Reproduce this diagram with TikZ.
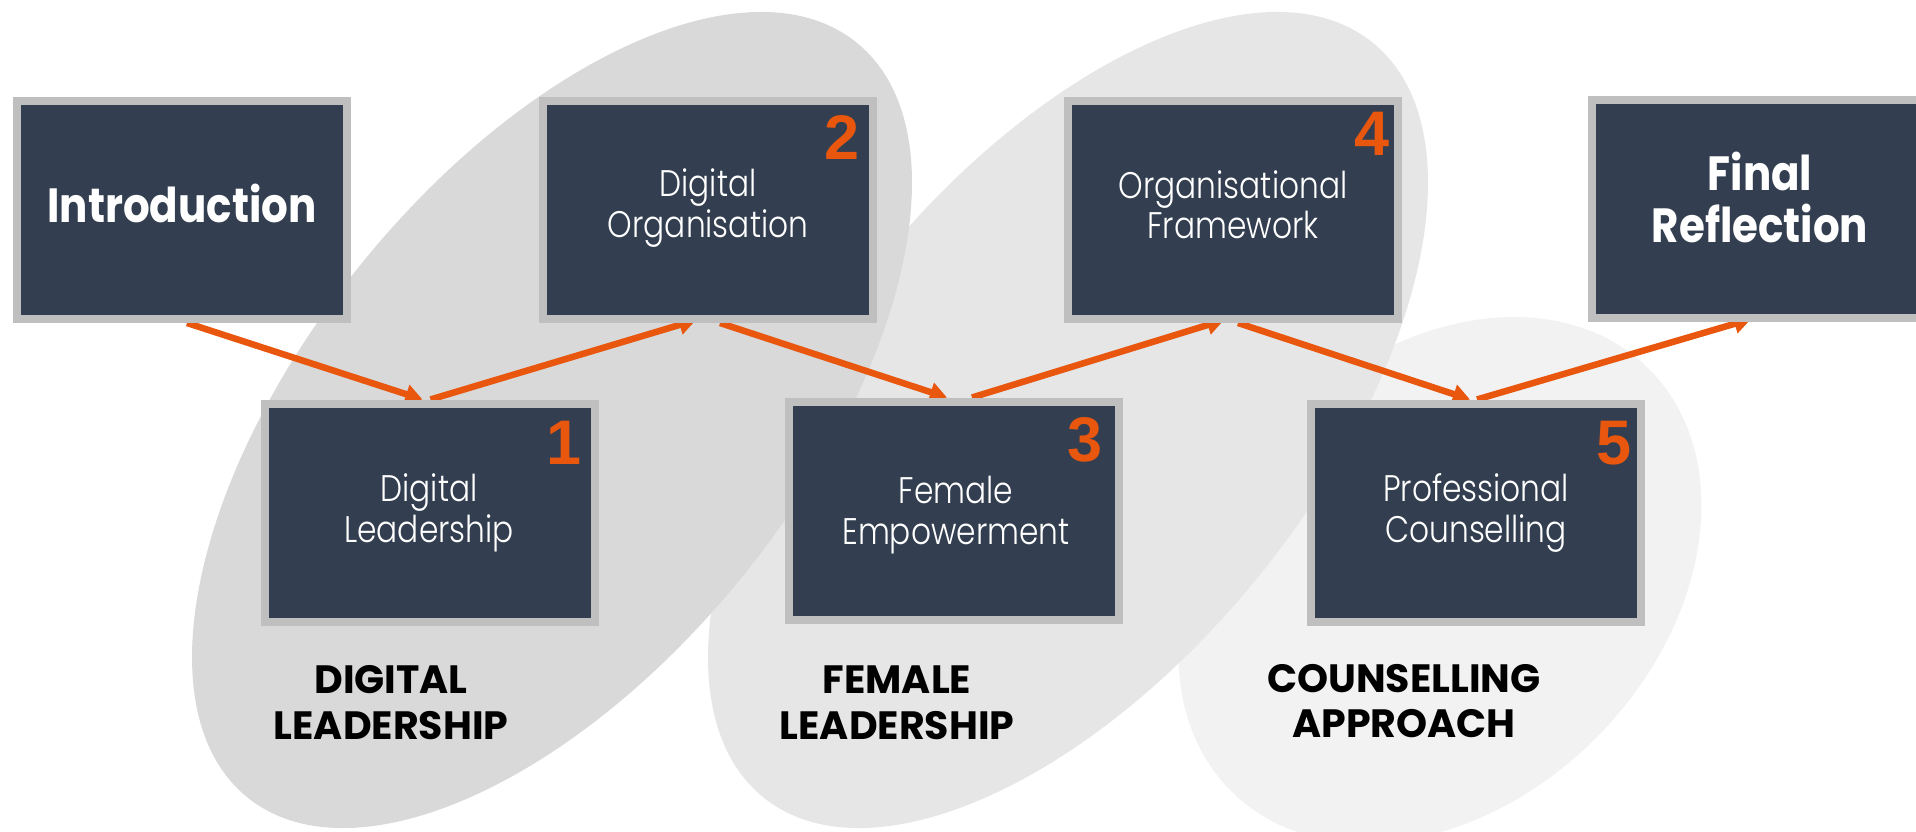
\documentclass[tikz,border=0pt]{standalone}
\usepackage{fontspec}
\setmainfont{Poppins}
\newfontfamily\lightfont{Poppins Light}[FakeStretch=0.845]
\newfontfamily\headfont{Poppins}[FakeStretch=0.875]
\newfontfamily\numfont{Liberation Sans}
\usetikzlibrary{arrows.meta,calc}
\definecolor{boxfill}{HTML}{333F50}
\definecolor{boxborder}{HTML}{BFBFBF}
\definecolor{accent}{HTML}{E9560E}
\definecolor{ellA}{HTML}{D9D9D9}
\definecolor{ellB}{HTML}{E6E6E6}
\definecolor{ellC}{HTML}{F2F2F2}
\begin{document}
\begin{tikzpicture}[x=1pt,y=-1pt,
  stepbox/.style={draw=boxborder, line width=8pt, fill=boxfill, minimum width=330pt, minimum height=218pt, inner sep=0pt},
  flow/.style={draw=accent, line width=6.5pt, -{Triangle[length=17pt,width=19pt]}},
  boxtxt/.style={text=white, font=\lightfont\fontsize{37}{37}\selectfont, anchor=base, inner sep=0pt},
  headtxt/.style={text=white, font=\headfont\bfseries\fontsize{48}{48}\selectfont, anchor=base, inner sep=0pt},
  grouptxt/.style={text=black, font=\bfseries\fontsize{39.5}{39.5}\selectfont, anchor=base, inner sep=0pt},
  numtxt/.style={text=accent, font=\numfont\bfseries\fontsize{63}{63}\selectfont, anchor=north east, inner sep=0pt},
]
\useasboundingbox (0,0) rectangle (1916,832);
\begin{scope}
\clip (0,0) rectangle (1916,832);
% group ellipses
\fill[ellC, rotate around={45.6:(1440,580)}] (1440,580) ellipse (297 and 222);
\fill[ellB, rotate around={51.1:(1068,420)}] (1068,420) ellipse (485 and 246.5);
\fill[ellA, rotate around={51.1:(552,420)}] (552,420) ellipse (485 and 246.5);

% box positions
\coordinate (pintro) at (182,210);
\coordinate (p1) at (429.5,512.5);
\coordinate (p2) at (708,210);
\coordinate (p3) at (954,510.5);
\coordinate (p4) at (1233,210);
\coordinate (p5) at (1476,512.5);
\coordinate (pfin) at (1757,209);

% invisible anchors for the connectors
\path (pintro) node[stepbox, draw=none, fill=none] (intro) {}
      (p1) node[stepbox, draw=none, fill=none] (b1) {}
      (p2) node[stepbox, draw=none, fill=none] (b2) {}
      (p3) node[stepbox, draw=none, fill=none] (b3) {}
      (p4) node[stepbox, draw=none, fill=none] (b4) {}
      (p5) node[stepbox, draw=none, fill=none] (b5) {}
      (pfin) node[stepbox, draw=none, fill=none] (fin) {};

% connectors (beneath the boxes)
\draw[flow] ([xshift=5pt]intro.south) -- ([xshift=-7pt]b1.north);
\draw[flow] ([xshift=1pt]b1.north) -- ([xshift=-12pt,yshift=3pt]b2.south);
\draw[flow] ([xshift=12pt]b2.south) -- ([xshift=-7pt]b3.north);
\draw[flow] ([xshift=18pt]b3.north) -- ([xshift=-9pt,yshift=3pt]b4.south);
\draw[flow] ([xshift=5pt]b4.south) -- ([xshift=-6pt]b5.north);
\draw[flow] ([xshift=1pt]b5.north) -- ([xshift=-6pt,yshift=3pt]fin.south);

% the boxes
\path (pintro) node[stepbox] (introbox) {}
      (p1) node[stepbox] (box1) {}
      (p2) node[stepbox] (box2) {}
      (p3) node[stepbox] (box3) {}
      (p4) node[stepbox] (box4) {}
      (p5) node[stepbox] (box5) {}
      (pfin) node[stepbox] (finbox) {};

% numbers
\node[numtxt] (n1) at (582,421) {1};
\node[numtxt] (n2) at (860,115) {2};
\node[numtxt] (n3) at (1103,417) {3};
\node[numtxt] (n4) at (1390,112) {4};
\node[numtxt] (n5) at (1632,421) {5};

% box texts
\node[headtxt] (tintro) at (182,222) {Introduction};
\node[headtxt] (tfina) at (1760,190) {Final};
\node[headtxt] (tfinb) at (1760,242) {Reflection};
\node[boxtxt] (t2a) at (708,196) {Digital};
\node[boxtxt] (t2b) at (708,237) {Organisation};
\node[boxtxt] (t4a) at (1233,198) {Organisational};
\node[boxtxt] (t4b) at (1233,238) {Framework};
\node[boxtxt] (t1a) at (429,501) {Digital};
\node[boxtxt] (t1b) at (429,542) {Leadership};
\node[boxtxt] (t3a) at (956,503) {Female};
\node[boxtxt] (t3b) at (956,544) {Empowerment};
\node[boxtxt] (t5a) at (1476,501) {Professional};
\node[boxtxt] (t5b) at (1476,542) {Counselling};

% group labels
\node[grouptxt] (g1a) at (391,693) {DIGITAL};
\node[grouptxt] (g1b) at (391,739) {LEADERSHIP};
\node[grouptxt] (g2a) at (897,693) {FEMALE};
\node[grouptxt] (g2b) at (897,739) {LEADERSHIP};
\node[grouptxt] (g3a) at (1404,692) {COUNSELLING};
\node[grouptxt] (g3b) at (1404,737) {APPROACH};
\end{scope}
\end{tikzpicture}
\end{document}
